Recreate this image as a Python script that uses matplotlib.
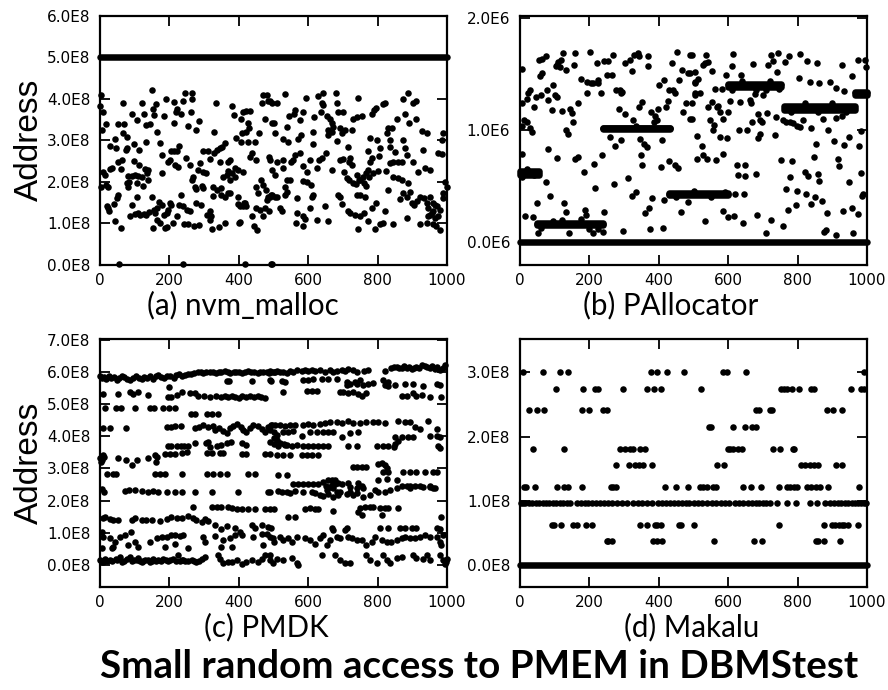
import numpy as np
import matplotlib
matplotlib.use('Agg')
import matplotlib.pyplot as plt

# ---------------- data ----------------
x_ticks = [0, 200, 400, 600, 800, 1000]
x_tick_labels = ['0', '200', '400', '600', '800', '1000']
captions = ['(a) nvm_malloc', '(b) PAllocator', '(c) PMDK', '(d) Makalu']
title = 'Small random access to PMEM in DBMStest'
y_label = 'Address'

# (a) nvm_malloc  (address in units of 1E8)
a_yticks = [0, 1, 2, 3, 4, 5, 6]
a_ytick_labels = ['0.0E8', '1.0E8', '2.0E8', '3.0E8', '4.0E8', '5.0E8', '6.0E8']
a_band_x0 = [0]
a_band_x1 = [1000]
a_band_y = [5.0]
a_points = [
 (3,4.10),(0,3.83),(10,3.69),(17,3.39),(7,3.25),(65,3.91),(51,3.39),(69,3.39),(67,3.17),(79,3.09),
 (91,3.63),(107,3.49),(120,3.90),(128,3.65),(134,3.37),(144,3.40),(149,4.22),(154,3.75),(160,3.87),(155,3.61),
 (163,3.21),(190,4.00),(183,3.59),(213,3.92),(223,3.75),(219,3.69),(233,3.63),(213,3.41),(240,3.94),(245,4.14),
 (266,4.14),(264,4.00),(262,3.69),(253,3.35),(286,3.47),(278,3.25),(333,3.90),(329,3.21),(379,3.83),(387,3.61),
 (405,3.53),(413,3.68),(422,3.71),(432,3.71),(427,3.41),(430,3.29),(422,3.21),(408,3.17),(392,3.05),(405,2.97),
 (427,2.97),(448,2.97),(458,3.17),(466,3.90),(470,4.10),(480,4.10),(485,3.94),(491,3.94),(475,3.51),(496,3.41),
 (488,2.60),
 (29,2.87),(43,3.03),(45,2.83),(77,2.83),(75,2.77),(99,2.91),(113,2.77),(132,2.97),(173,2.95),(178,2.65),
 (204,2.75),(213,2.75),(221,2.75),(229,2.87),(195,2.47),(202,2.53),(216,2.41),(224,2.35),(248,2.57),(259,2.41),
 (180,2.21),(10,2.25),(13,2.17),(29,2.31),(35,2.33),(53,2.47),(62,2.53),(60,2.31),(99,2.51),(113,2.41),
 (130,2.31),(139,2.29),(136,2.21),(80,2.14),(91,2.15),(101,2.16),(110,2.15),(120,2.13),(17,1.93),(24,1.89),
 (3,1.89),(85,2.00),(77,1.97),(82,1.87),(106,1.98),(125,1.90),(139,2.05),(269,2.13),(264,2.05),(283,2.29),
 (298,2.25),(305,2.21),(274,1.89),(276,1.82),(293,1.90),(298,1.85),(288,2.45),(298,2.75),(312,2.75),(317,2.55),
 (328,2.69),(336,2.77),(346,2.81),(352,2.85),(360,2.93),(346,2.49),(355,2.13),(365,2.17),(374,2.53),(368,2.49),
 (370,2.27),(381,2.21),(389,2.13),(374,2.05),(326,1.89),(336,1.81),(350,1.69),(360,1.65),(368,1.74),(374,1.73),
 (350,1.85),(389,2.33),(397,2.29),(413,2.25),(398,1.65),(418,1.49),(411,1.42),(403,1.42),(422,1.43),(432,2.61),
 (439,2.71),(451,2.53),(463,2.05),(451,1.89),(456,1.73),(469,1.93),(477,1.81),(485,1.65),(494,1.69),
 (19,1.41),(26,1.31),(22,1.37),(41,1.47),(53,1.69),(48,1.61),(43,1.05),(60,0.89),(56,0.03),(86,1.17),
 (91,1.45),(108,1.65),(101,1.22),(110,1.25),(115,1.20),(127,1.24),(134,1.20),(141,1.28),(149,1.65),(157,1.33),
 (165,1.37),(170,1.53),(178,1.45),(158,1.25),(163,1.09),(173,1.02),(183,1.20),(192,1.25),(197,1.33),(202,1.49),
 (154,0.90),(187,0.88),(192,0.92),(211,1.00),(221,1.17),(204,1.45),(233,1.69),(228,1.45),(240,1.41),(250,1.33),
 (259,1.29),(243,0.98),(254,0.99),(271,0.94),(285,0.96),(276,1.49),(291,1.45),(317,1.29),(307,1.21),(320,1.17),
 (317,1.09),(322,0.86),(326,1.66),(343,0.92),(360,1.00),(400,1.00),(403,1.04),(398,1.46),(416,1.49),(437,1.17),
 (443,0.93),(453,0.85),(451,1.37),(461,1.33),(475,1.37),(486,1.29),(480,1.57),(470,1.18),(240,0.03),(417,0.03),
 (492,0.03),
 (495,3.91),(511,3.91),(533,4.11),(500,3.41),(504,3.17),(526,3.03),(543,2.97),(540,3.32),(546,3.60),(559,3.63),
 (562,3.73),(586,3.69),(575,3.49),(578,3.13),(572,3.03),(594,4.02),(613,3.21),(613,2.91),(618,3.57),(629,4.07),
 (644,4.15),(636,3.69),(639,3.90),(644,3.86),(653,3.59),(663,3.51),(668,3.43),(672,3.33),(658,3.25),(668,3.21),
 (658,3.13),(680,4.14),(682,3.90),(687,3.69),(701,3.68),(692,3.29),(697,3.17),(706,3.25),(725,3.25),(682,2.99),
 (716,2.85),(730,3.51),(742,3.57),(754,3.60),(743,4.02),(783,3.65),(790,3.73),(795,3.78),(815,3.88),(821,3.90),
 (778,3.05),(797,3.01),(807,2.81),(826,3.17),(831,3.29),(841,3.29),(836,3.01),(836,2.85),(850,2.73),(855,3.53),
 (874,4.00),(887,4.14),(903,3.90),(911,3.94),(879,3.65),(891,3.43),(911,3.53),(874,3.01),(879,2.81),(884,2.65),
 (927,3.24),(941,3.19),(932,2.77),(988,3.17),(985,3.01),(975,2.69),(985,2.67),(937,2.33),(951,2.29),
 (490,2.53),(509,2.49),(495,2.29),(504,2.17),(528,2.53),(527,2.33),(538,2.05),(548,2.05),(550,2.49),(555,2.53),
 (562,2.65),(575,2.69),(586,2.39),(596,2.25),(605,2.53),(624,2.33),(632,2.53),(639,2.59),(651,2.71),(586,2.03),
 (596,2.01),(607,1.93),(668,2.29),(692,2.53),(701,2.55),(720,2.59),(718,2.49),(725,2.41),(703,2.25),(713,2.09),
 (718,2.05),(730,1.97),(738,1.95),(749,2.05),(757,2.13),(766,2.21),(773,2.29),(778,2.49),(783,2.57),(773,2.75),
 (742,2.17),(745,2.05),(761,1.97),(768,1.90),(775,2.13),(788,2.21),(804,2.63),(802,2.27),(824,2.27),(836,2.45),
 (845,2.47),(860,2.47),(869,2.47),(843,2.11),(860,2.09),(869,2.06),(903,2.49),(917,2.25),(889,1.97),(893,1.77),
 (831,1.81),(865,1.58),(874,1.73),(884,1.65),(898,1.50),(905,1.45),(913,1.55),(922,1.63),(934,1.61),(941,1.49),
 (946,1.37),(951,1.65),(959,1.50),(965,1.45),(970,1.41),(960,1.29),(956,1.25),(946,1.17),(965,1.13),(975,1.17),
 (980,1.33),(989,1.61),(999,1.89),(994,2.01),(989,1.73),
 (490,1.65),(495,1.69),(504,1.63),(509,1.65),(519,1.37),(524,1.29),(533,1.89),(538,1.77),(533,1.69),(567,1.61),
 (567,1.25),(565,1.01),(586,1.17),(591,1.10),(584,0.93),(605,1.37),(610,1.65),(615,1.69),(624,1.09),(648,1.41),
 (658,1.05),(687,1.69),(692,1.63),(696,1.47),(716,1.29),(720,1.25),(735,1.21),(740,1.69),(749,1.69),(764,1.65),
 (744,0.87),(749,1.17),(761,1.26),(773,1.05),(783,1.37),(795,1.49),(792,0.86),(807,0.99),(816,1.01),(821,1.29),
 (845,0.99),(884,1.13),(922,0.99),(941,1.01),(951,1.21),(960,0.99),(967,0.95),(980,0.85),(495,0.03),
]

# (b) PAllocator  (address in units of 1E6)
b_yticks = [0, 1, 2]
b_ytick_labels = ['0.0E6', '1.0E6', '2.0E6']
b_band_x0 = [0, 0, 50, 240, 430, 598, 760, 965]
b_band_x1 = [1000, 55, 240, 432, 600, 752, 965, 1000]
b_band_y = [0.0, 0.615, 0.16, 1.015, 0.43, 1.40, 1.20, 1.33]
b_band_spread = [0.0, 0.016, 0.010, 0.006, 0.010, 0.012, 0.016, 0.012]
b_points = [
 (7,1.55),(5,1.24),(29,1.36),(24,1.33),(21,1.28),(12,1.09),(19,1.07),(34,0.98),(41,1.21),(45,1.30),
 (60,1.31),(77,1.36),(82,1.27),(96,1.40),(101,1.31),(108,1.30),(55,1.63),(62,1.64),(74,1.66),(58,1.48),
 (62,1.51),(106,1.58),(110,1.61),(118,1.63),(115,1.56),(103,1.57),(134,1.54),(125,1.69),(158,1.69),(156,1.58),
 (91,1.18),(120,1.17),(144,1.19),(151,1.15),(154,1.07),(139,0.97),(134,1.00),(168,1.24),(176,1.46),(192,1.43),
 (205,1.42),(211,1.42),(224,1.45),(226,1.42),(192,1.33),(233,1.33),(202,1.70),(221,1.60),(243,1.62),(254,1.62),
 (269,1.67),(250,1.49),(264,1.49),(278,1.36),(288,1.36),(291,1.33),(295,1.34),(302,1.60),(317,1.63),(322,1.53),
 (329,1.67),(339,1.69),(343,1.66),(370,1.66),(368,1.57),(285,1.19),(304,1.14),(326,1.09),(343,1.21),(352,1.25),
 (333,1.04),(377,1.16),(398,1.19),(389,1.13),(387,1.07),(394,1.09),(401,1.40),(416,1.45),(429,1.36),(442,1.36),
 (447,1.33),(437,1.60),(452,1.70),(458,1.45),(466,1.54),(483,1.51),(491,1.51),(477,1.24),(470,1.16),(489,1.10),
 (504,1.43),(504,1.33),(491,1.67),(427,1.26),(422,1.21),
 (259,0.94),(275,0.86),(291,0.91),(346,0.92),(358,0.88),(365,0.85),(348,0.78),(352,0.69),(408,0.91),(406,0.67),
 (429,0.72),(447,0.69),(456,0.66),(80,0.83),(108,0.75),(158,0.74),(168,0.76),(183,0.63),(212,0.70),(237,0.78),
 (74,0.54),(86,0.41),(216,0.48),(272,0.52),(312,0.57),(322,0.41),(333,0.45),(360,0.26),(371,0.30),(379,0.39),
 (416,0.38),(298,0.10),(376,0.12),(413,0.13),(128,0.35),(132,0.27),(48,0.35),(14,0.23),(38,0.22),(187,0.29),
 (189,0.24),(243,0.27),(464,0.27),(483,0.36),(5,0.79),(5,1.04),(29,1.02),
 (51,0.08),(142,0.08),(211,0.08),(240,0.09),(60,0.13),(95,0.19),(120,0.20),(175,0.21),(200,0.12),(225,0.12),
 (6,0.58),(20,0.65),(40,0.60),
 (495,1.67),(536,1.67),(543,1.61),(552,1.53),(533,1.60),(526,1.58),(504,1.52),(514,1.46),(504,1.42),(613,1.68),
 (610,1.57),(594,1.49),(636,1.49),(672,1.59),(722,1.67),(744,1.69),(716,1.58),(730,1.62),(742,1.52),(764,1.61),
 (776,1.66),(807,1.68),(828,1.62),(855,1.60),(805,1.47),(836,1.43),(862,1.42),(893,1.43),(927,1.58),(975,1.63),
 (994,1.63),(997,1.56),(956,1.48),(934,1.35),(912,1.38),
 (495,1.24),(504,1.31),(519,1.33),(552,1.25),(572,1.22),(562,1.37),(581,1.37),(605,1.26),(634,1.25),(663,1.27),
 (665,1.24),(677,1.32),(701,1.31),(709,1.36),(543,1.21),(569,1.21),(576,1.16),(495,1.10),(548,1.09),(559,1.05),
 (586,1.10),(600,1.16),
 (555,1.00),(511,0.95),(576,0.94),(596,0.93),(524,0.86),(528,0.78),(509,0.74),(538,0.74),(565,0.73),(584,0.79),
 (632,1.00),(653,1.00),(670,1.07),(687,1.14),(692,1.09),(696,1.07),(692,0.97),(685,0.93),(713,1.15),(738,1.12),
 (735,0.96),(626,0.69),(648,0.69),(629,0.60),(648,0.59),(680,0.61),(751,0.73),(783,0.72),
 (816,1.09),(838,1.02),(874,1.10),(888,1.00),(853,0.88),(905,0.90),(912,1.11),(927,1.13),(934,0.87),(949,0.94),
 (978,0.86),(982,0.99),(847,0.76),(915,0.74),(919,0.68),(821,0.63),(831,0.59),(778,0.58),(862,0.55),(860,0.61),
 (949,0.54),(982,0.62),(989,0.43),(987,0.41),
 (766,0.47),(799,0.46),(824,0.43),(850,0.40),(871,0.37),(840,0.34),(795,0.33),(771,0.29),
 (620,0.43),(646,0.43),(586,0.28),(600,0.22),(617,0.23),(644,0.17),(682,0.24),(533,0.19),(724,0.20),(757,0.14),
 (709,0.08),(886,0.26),(932,0.28),(958,0.30),(975,0.25),(876,0.09),(882,0.11),(912,0.06),(960,0.08),
 (757,1.09),(768,1.07),(778,1.07),(788,1.06),(797,1.04),(807,1.03),
 (610,1.36),(640,1.44),(680,1.36),(720,1.44),(745,1.37),(780,1.16),(820,1.24),(860,1.16),(900,1.24),(940,1.16),
 (450,0.40),(500,0.46),(550,0.40),(590,0.45),
]

# (c) PMDK  (address in units of 1E8)
c_yticks = [0, 1, 2, 3, 4, 5, 6, 7]
c_ytick_labels = ['0.0E8', '1.0E8', '2.0E8', '3.0E8', '4.0E8', '5.0E8', '6.0E8', '7.0E8']
c_points = [
 (0,5.88),(6,5.82),(12,5.85),(18,5.78),(25,5.86),(32,5.80),(40,5.84),(48,5.76),(55,5.80),(62,5.87),
 (70,5.83),(78,5.78),(86,5.74),(95,5.80),(104,5.86),(112,5.82),(120,5.78),(128,5.84),(136,5.82),(145,5.86),
 (153,5.79),(160,5.86),(168,5.90),(176,5.84),(185,5.80),(194,5.86),(203,5.88),(212,5.82),(220,5.90),(228,5.92),
 (236,5.86),(245,5.90),(254,5.94),(262,5.92),(270,5.96),
 (283,5.98),(290,6.00),(298,5.97),(306,6.00),(318,5.98),(326,6.00),(334,5.96),(342,6.00),(350,5.98),(360,6.02),
 (368,5.99),(376,5.97),(385,6.01),(392,5.98),(400,6.00),(410,5.96),(418,6.00),(426,6.02),(436,5.98),(445,6.00),
 (455,5.97),(462,6.01),(470,5.99),(480,6.00),(488,5.97),(496,6.01),(504,5.98),
 (490,6.02),(500,5.98),(509,6.03),(518,6.00),(528,6.00),(538,5.97),(548,6.04),(557,6.00),(567,6.05),(581,6.03),
 (591,6.06),(600,6.02),(610,6.05),(620,6.02),(634,6.06),(648,6.01),(663,6.05),(672,6.00),(682,6.03),(696,6.06),
 (706,6.02),(716,6.08),(730,6.06),(740,5.98),(760,6.02),(773,6.06),(821,6.04),(840,6.12),(848,6.16),(855,6.16),
 (862,6.12),(869,6.13),(876,6.18),(884,6.11),(891,6.15),(898,6.09),(905,6.13),(912,6.16),(920,6.12),(927,6.21),
 (936,6.19),(943,6.16),(951,6.13),(958,6.18),(965,6.09),(972,6.14),(980,6.06),(988,6.12),(994,6.21),
 (365,5.71),(372,5.71),(437,5.71),(492,5.71),(490,5.75),(524,5.71),(533,5.69),(586,5.75),(600,5.75),(615,5.78),
 (639,5.78),(658,5.78),(682,5.78),(711,5.69),(735,5.69),(749,5.75),(816,5.75),(831,5.69),
 (711,5.59),(720,5.61),(740,5.61),(759,5.59),(773,5.61),(788,5.64),(821,5.59),(831,5.57),(850,5.59),(879,5.61),
 (903,5.61),(932,5.57),(970,5.61),(980,5.59),
 (10,5.30),(53,5.30),(86,5.36),(96,5.30),(110,5.38),(139,5.28),(195,5.23),(204,5.23),(221,5.28),(237,5.38),
 (259,5.33),(274,5.33),(199,5.54),
 (283,5.24),(300,5.26),(318,5.22),(334,5.24),(350,5.22),(360,5.25),(370,5.22),(380,5.24),(390,5.22),(400,5.20),
 (410,5.24),(420,5.22),(432,5.24),(445,5.22),(455,5.26),(465,5.22),(475,5.20),
 (528,5.38),(596,5.40),(610,5.40),(624,5.40),(692,5.36),(701,5.36),(716,5.33),(730,5.38),(744,5.30),(754,5.25),
 (768,5.33),(869,5.26),(884,5.26),(903,5.33),(912,5.26),(927,5.28),(951,5.23),(982,5.23),
 (14,4.89),(45,4.89),(60,4.89),(101,4.89),(144,4.89),(156,4.89),(182,4.89),(199,4.89),(216,4.89),
 (262,4.68),(274,4.68),(307,4.68),(322,4.68),(341,4.68),
 (10,4.26),(29,4.26),(74,4.26),(192,4.30),(204,4.30),(216,4.33),(233,4.33),
 (274,4.25),(285,4.30),(298,4.35),(312,4.30),(326,4.33),(331,4.19),(343,4.27),(355,4.16),(365,4.09),(374,4.25),
 (384,4.33),(394,4.37),(406,4.30),(413,4.19),(422,4.12),(432,4.27),(442,4.35),(456,4.33),(466,4.22),(475,4.14),
 (485,4.30),(494,4.35),
 (495,4.35),(504,4.35),(519,4.35),(533,4.33),(548,4.35),(562,4.35),(586,4.35),(600,4.37),(615,4.35),(634,4.37),
 (648,4.40),(663,4.45),(682,4.45),(696,4.40),(716,4.47),(730,4.40),(749,4.40),(768,4.45),(788,4.45),(802,4.43),
 (821,4.40),(860,4.47),(879,4.43),(893,4.45),(908,4.30),(922,4.22),(946,4.47),(970,4.22),
 (490,4.19),(500,4.14),(509,4.04),(528,4.14),(543,4.12),(557,4.16),(581,4.02),(605,4.14),(624,4.14),(644,4.12),
 (658,4.14),(672,4.14),(696,3.99),(720,4.09),(744,4.14),(850,3.99),(869,3.99),(888,3.99),(903,3.99),(951,4.01),
 (970,4.01),(980,3.99),(500,3.95),(510,3.88),(520,3.80),(530,3.75),(538,3.72),
 (197,3.71),(206,3.71),(221,3.71),(233,3.71),(243,3.71),(254,3.71),(274,3.78),(305,3.78),(317,3.67),(312,3.83),
 (336,3.71),(348,3.73),(365,3.78),(377,3.83),(408,3.78),(422,3.73),
 (490,3.83),(500,3.75),(514,3.71),(533,3.73),(552,3.71),(567,3.73),(586,3.71),(600,3.71),(615,3.71),(629,3.71),
 (644,3.71),(658,3.71),(716,3.71),(740,3.71),(797,3.71),(816,3.71),(831,3.71),(850,3.75),(860,3.85),(975,3.71),
 (846,3.67),(981,3.65),
 (0,3.31),(10,3.42),(53,3.31),(74,3.26),(91,3.11),(106,3.26),(139,3.31),(158,3.42),(161,3.21),(163,3.37),
 (187,3.44),(202,3.44),(216,3.44),(235,3.47),(250,3.52),(307,3.47),(322,3.47),(346,3.47),(355,3.47),(408,3.44),
 (422,3.44),(475,3.44),(490,3.44),(5,3.25),(12,3.35),(3,3.20),(509,3.42),(528,3.42),(548,3.42),(581,3.42),
 (596,3.42),(610,3.42),(629,3.42),
 (730,3.05),(740,3.05),(754,3.05),(768,3.05),(802,3.13),(812,3.16),(821,3.11),(826,3.00),(831,2.88),(816,2.88),
 (874,2.88),(893,2.88),(912,2.88),(936,2.88),(960,2.88),(970,2.88),
 (19,2.82),(38,2.82),(45,2.82),(158,2.82),(173,2.82),(187,2.82),(235,2.82),(307,2.82),(326,2.82),(346,2.82),
 (365,2.82),(427,2.82),(447,2.82),(514,2.80),(538,2.80),
 (5,2.35),(12,2.28),(72,2.30),(84,2.33),(101,2.33),(120,2.30),(139,2.28),(154,2.30),(168,2.28),(192,2.26),
 (216,2.26),(235,2.26),(274,2.26),(322,2.26),(397,2.26),(483,2.26),
 (557,2.51),(572,2.51),(586,2.51),(600,2.51),(615,2.51),(629,2.51),(644,2.57),(658,2.64),(668,2.64),(677,2.64),
 (687,2.54),(696,2.51),(663,2.43),(672,2.38),(682,2.28),(692,2.28),(716,2.54),(720,2.43),(740,2.38),(744,2.54),
 (754,2.46),(759,2.38),(802,2.64),(826,2.67),(855,2.64),(869,2.46),(884,2.46),(893,2.46),(908,2.46),(922,2.46),
 (951,2.46),(965,2.38),(650,2.45),(655,2.33),(668,2.50),(676,2.52),
 (490,2.26),(514,2.30),(524,2.28),(538,2.26),(548,2.23),(562,2.30),(586,2.28),(610,2.28),(620,2.23),(634,2.18),
 (644,2.15),(658,2.20),(672,2.12),(687,2.18),(711,2.20),(720,2.28),(730,2.18),(742,2.23),(759,2.12),(778,2.18),
 (792,2.33),(802,2.28),(821,2.28),(836,2.33),(855,2.38),(893,2.38),(932,2.43),(951,2.43),(960,2.38),
 (269,1.81),(322,1.81),(336,1.81),(350,1.81),(368,1.81),(381,1.76),(394,1.74),(408,1.74),(427,1.74),(447,1.74),
 (475,1.74),(490,1.74),(500,1.74),(591,1.74),(605,1.76),(620,1.74),(629,1.74),(672,1.68),(749,1.76),(764,1.81),
 (778,1.81),(788,1.81),(807,1.76),(821,1.78),(831,1.78),(860,1.78),(744,1.66),(754,1.57),(812,1.55),
 (10,1.45),(14,1.50),(29,1.43),(38,1.40),(53,1.40),(91,1.40),(101,1.45),(120,1.40),(134,1.40),(149,1.40),
 (173,1.37),(192,1.43),(206,1.50),(221,1.47),(237,1.47),(254,1.53),(269,1.45),(278,1.40),(293,1.35),(302,1.43),
 (312,1.37),(331,1.26),(350,1.12),(365,1.22),(389,1.14),(403,1.04),(437,1.24),(447,1.14),(466,1.24),(485,1.19),
 (494,1.14),(543,1.50),(562,1.50),(982,1.50),(668,1.14),(672,1.09),(711,1.14),(807,1.14),(831,1.14),(864,1.14),
 (879,1.14),(898,1.14),(912,1.14),(970,1.14),(980,1.12),
 (5,1.04),(10,0.88),(29,0.85),(43,0.73),(58,0.88),(72,0.93),(82,0.62),(89,1.04),(101,0.73),(144,0.73),
 (163,0.83),(178,0.88),(192,0.88),(206,0.93),(216,0.93),(230,0.91),(240,0.93),(298,0.88),(302,0.73),(331,0.91),
 (355,0.78),(374,0.83),(389,0.93),(408,0.93),(442,0.88),(466,0.98),(480,0.98),(499,0.85),
 (5,0.52),(34,0.52),(38,0.57),(110,0.57),(187,0.57),(216,0.64),(254,0.52),(350,0.57),(379,0.57),(470,0.62),
 (490,0.88),(500,0.73),(519,0.88),(528,0.78),(543,0.83),(552,0.73),(567,0.88),(591,0.85),(605,0.78),(620,0.67),
 (634,0.85),(644,0.93),(653,0.62),(663,0.78),(682,0.88),(692,0.83),(706,1.09),(716,0.88),(725,0.85),(740,0.78),
 (754,0.78),(768,0.62),(783,0.73),(792,0.88),(812,0.78),(826,0.73),(840,0.73),(855,0.78),(869,0.83),(879,0.88),
 (893,0.85),(908,0.85),(922,0.88),(936,0.93),(951,0.88),(970,0.88),(980,0.73),(989,0.93),(984,0.62),
 (0,0.16),(10,0.11),(29,0.16),(45,0.19),(58,0.26),(62,0.11),(86,0.26),(106,0.16),(110,0.21),(120,0.11),
 (130,0.16),(144,0.11),(154,0.19),(168,0.16),(182,0.19),(202,0.16),(211,0.19),(226,0.31),(235,0.16),(245,0.13),
 (264,0.16),(278,0.11),(293,0.19),(302,0.26),(341,0.31),(346,0.19),(355,0.05),(368,0.11),(379,0.11),(394,0.16),
 (408,0.02),(422,0.11),(437,0.16),(456,0.11),(466,0.19),(475,0.31),(490,0.16),(499,0.08),
 (5,0.14),(15,0.18),(20,0.13),(35,0.12),(50,0.15),(70,0.14),(78,0.18),(92,0.13),(98,0.16),(115,0.14),
 (125,0.12),(137,0.15),(150,0.13),(160,0.14),(175,0.12),(190,0.15),(197,0.12),(218,0.14),(230,0.12),(240,0.15),
 (255,0.12),(270,0.14),(285,0.13),
 (490,0.31),(509,0.19),(528,0.16),(552,0.21),(567,0.05),(572,0.00),(639,0.31),(677,0.31),(692,0.16),(706,0.05),
 (720,0.05),(768,0.31),(778,0.16),(797,0.05),(816,0.31),(826,0.16),(836,0.05),(855,0.21),(869,0.26),(903,0.31),
 (912,0.21),(932,0.19),(941,0.31),(951,0.16),(980,0.31),(989,0.16),(994,0.02),(996,0.10),(999,0.20),
]

# (d) Makalu  (address in units of 1E8), discrete address levels
d_yticks = [0, 1, 2, 3]
d_ytick_labels = ['0.0E8', '1.0E8', '2.0E8', '3.0E8']
d_band_x0 = [0]
d_band_x1 = [1000]
d_band_y = [0.0]
d_lvl_300 = [10, 67, 115, 139, 377, 396, 423, 474, 585, 596, 652, 990]
d_lvl_274 = [104, 181, 216, 226, 296, 367, 385, 406, 521, 753, 760, 769, 784, 805, 838, 848, 954, 983, 990]
d_lvl_241 = [27, 50, 69, 178, 200, 240, 252, 681, 688, 721, 726, 885, 902, 928]
d_lvl_215 = [546, 550, 615, 649, 668, 681]
d_lvl_181 = [38, 128, 287, 303, 317, 325, 346, 361, 598, 606, 615, 628, 640, 729, 748, 787, 790]
d_lvl_156 = [277, 315, 332, 343, 354, 380, 567, 587, 810, 822, 837, 848, 860, 911, 927]
d_lvl_122 = [12, 17, 43, 106, 128, 139, 178, 262, 269, 277, 418, 450, 483, 519, 527, 538, 556, 565, 642,
             665, 694, 745, 769, 779, 790, 799, 826, 840, 853, 865, 887, 978]
d_lvl_097 = [3, 8, 15, 25, 35, 45, 55, 65, 75, 85, 95, 105, 115, 125, 135, 145,
             164, 175, 186, 197, 208, 219, 230, 242, 254, 265, 280, 294, 308, 327, 340, 352, 366, 380,
             399, 410, 421, 432, 443, 455, 466, 477, 488, 500, 512, 524, 539, 552, 565, 578, 590, 601,
             620, 632, 644, 656, 668, 680, 690, 700, 710, 721, 740, 769, 796, 837, 856,
             880, 892, 904, 915, 926, 936, 946, 956, 965, 974, 983, 992, 998]
d_lvl_063 = [91, 98, 117, 152, 165, 190, 207, 346, 367, 389, 394, 406, 457, 463, 500, 745, 875, 899, 909,
             918, 928, 935, 944, 973]
d_lvl_038 = [250, 255, 264, 383, 394, 409, 560, 675, 697, 853, 860, 875, 923]
d_levels_y = [3.00, 2.74, 2.41, 2.15, 1.81, 1.56, 1.22, 0.97, 0.63, 0.38]
d_levels_x = [d_lvl_300, d_lvl_274, d_lvl_241, d_lvl_215, d_lvl_181, d_lvl_156, d_lvl_122,
              d_lvl_097, d_lvl_063, d_lvl_038]

# ---------------- drawing ----------------
W, H = 888, 690
fig = plt.figure(figsize=(W / 100, H / 100), dpi=100)

MS = 4.7          # marker size (pt) -> ~6.5 px dots
DOT_LW = 4.7      # band line width (pt), same as dot diameter


def px_axes(left, top, right, bottom):
    return fig.add_axes([left / W, 1 - bottom / H, (right - left) / W, (bottom - top) / H])


def style(ax, ylim, yticks, ylabels):
    ax.set_xlim(0, 1000)
    ax.set_ylim(*ylim)
    ax.set_xticks(x_ticks)
    ax.set_xticklabels(x_tick_labels, fontfamily='DejaVu Sans', fontsize=11)
    ax.set_yticks(yticks)
    ax.set_yticklabels(ylabels, fontfamily='DejaVu Sans', fontsize=11)
    ax.tick_params(direction='in', length=7, width=1.3, top=True, right=True,
                   colors='black', pad=6)
    ax.tick_params(axis='y', pad=7)
    for s in ax.spines.values():
        s.set_linewidth(1.6)
        s.set_color('black')


def draw_points(ax, pts, scale):
    xs = [p[0] for p in pts]
    ys = [p[1] * scale for p in pts]
    ax.plot(xs, ys, 'o', ms=MS, color='black', mec='black', mew=0, ls='none', clip_on=False, zorder=3)


def draw_bands(ax, x0s, x1s, ys, spreads, scale):
    for x0, x1, y, sp in zip(x0s, x1s, ys, spreads):
        for off in sorted(set([-sp, 0.0, sp])):
            ax.plot([x0, x1], [(y + off) * scale] * 2, color='black', lw=DOT_LW,
                    solid_capstyle='round', clip_on=False, zorder=3)


# (a)
axA = px_axes(100, 16, 447, 265)
draw_bands(axA, a_band_x0, a_band_x1, a_band_y, [0.0], 1e8)
draw_points(axA, a_points, 1e8)
style(axA, (0, 6e8), [v * 1e8 for v in a_yticks], a_ytick_labels)

# (b)
axB = px_axes(520, 16, 867, 265)
draw_bands(axB, b_band_x0, b_band_x1, b_band_y, b_band_spread, 1e6)
draw_points(axB, b_points, 1e6)
style(axB, (-0.205e6, 2.02e6), [v * 1e6 for v in b_yticks], b_ytick_labels)

# (c)
axC = px_axes(100, 339, 447, 587)
draw_points(axC, c_points, 1e8)
style(axC, (-0.68e8, 7.02e8), [v * 1e8 for v in c_yticks], c_ytick_labels)

# (d)
axD = px_axes(520, 339, 867, 587)
draw_bands(axD, d_band_x0, d_band_x1, d_band_y, [0.0], 1e8)
d_pts = [(x, y) for y, xs in zip(d_levels_y, d_levels_x) for x in xs]
draw_points(axD, d_pts, 1e8)
style(axD, (-0.34e8, 3.52e8), [v * 1e8 for v in d_yticks], d_ytick_labels)

# y labels
for yc in (140, 463):
    fig.text(29 / W, 1 - yc / H, y_label, rotation=90, ha='center', va='center',
             fontsize=24, fontfamily='Liberation Sans')

# captions
cap_pos = [(243, 305), (671, 305), (266, 627), (692, 627)]
cap_texts = []
for (cx, cy), t in zip(cap_pos, captions):
    cap_texts.append(fig.text(cx / W, 1 - cy / H, t, ha='center', va='center',
                              fontsize=20, fontfamily='Lato'))
ttl = fig.text(479 / W, 1 - 667 / H, title, ha='center', va='center',
               fontsize=28, fontweight='bold', fontfamily='Lato')

# fit caption / title widths to the reference
fig.canvas.draw()
r = fig.canvas.get_renderer()
w = cap_texts[0].get_window_extent(r).width
cs = 20 * 191.0 / w
for t in cap_texts:
    t.set_fontsize(cs)
w = ttl.get_window_extent(r).width
ttl.set_fontsize(28 * 758.0 / w)

fig.savefig('out.png', dpi=100)
